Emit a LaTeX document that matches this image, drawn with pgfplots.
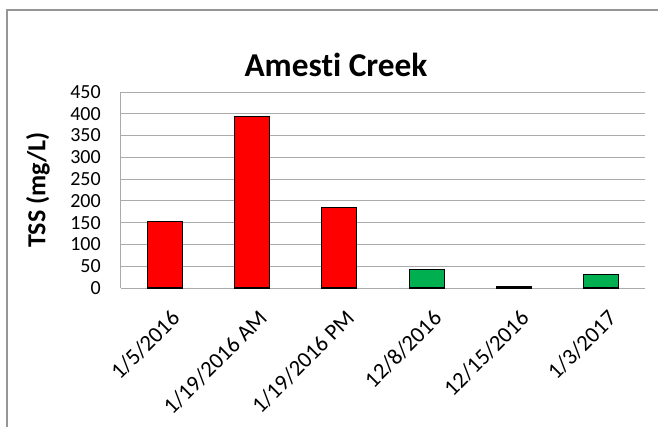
\documentclass[border=0pt]{standalone}
\usepackage{pgfplots}
\pgfplotsset{compat=1.18}
\usepackage{fontspec}
\setmainfont[Ligatures=NoCommon]{Carlito}
\definecolor{gridc}{RGB}{170,170,170}
\definecolor{framec}{RGB}{150,150,150}
\definecolor{xgreen}{RGB}{0,176,80}
\begin{document}
\begin{tikzpicture}[x=0.75pt,y=0.75pt]
\useasboundingbox (-121,-138) rectangle (537,288);
\draw[framec, line width=1.1pt] (-114,-140) -- (-114,278) -- (540,278);
\begin{axis}[
  at={(0,0)}, anchor=south west, scale only axis,
  width=393pt, height=147pt,
  ymin=0, ymax=450, ytick distance=50,
  xmin=-0.5, xmax=5.5,
  xtick={0,1,2,3,4,5},
  xticklabels={1/5/2016,1/19/2016 AM,1/19/2016 PM,12/8/2016,12/15/2016,1/3/2017},
  ybar, bar width=26.2pt, bar shift=0pt,
  ymajorgrids, grid style={gridc, line width=0.75pt},
  major tick length=0pt,
  axis x line*=bottom, axis y line*=left,
  axis line style={gridc, line width=0.75pt},
  every axis plot/.append style={draw=black, line width=0.9pt},
  /pgf/number format/assume math mode=true,
  yticklabel style={font=\fontsize{15}{18}\selectfont, inner sep=0pt, xshift=-15pt},
  xticklabel style={font=\fontsize{17}{20}\selectfont, rotate=45, anchor=north east, inner sep=0pt, yshift=-13.5pt, xshift=-8pt},
]
\addplot[fill=red] coordinates {(0,152) (1,393) (2,184)};
\addplot[fill=xgreen] coordinates {(3,43) (4,3) (5,31)};
\end{axis}
\node at (215,223) {\fontsize{25}{30}\selectfont\bfseries Amesti Creek};
\node[rotate=90] at (-83,98) {\fontsize{19.5}{24}\selectfont\bfseries TSS (mg/L)};
\end{tikzpicture}
\end{document}
